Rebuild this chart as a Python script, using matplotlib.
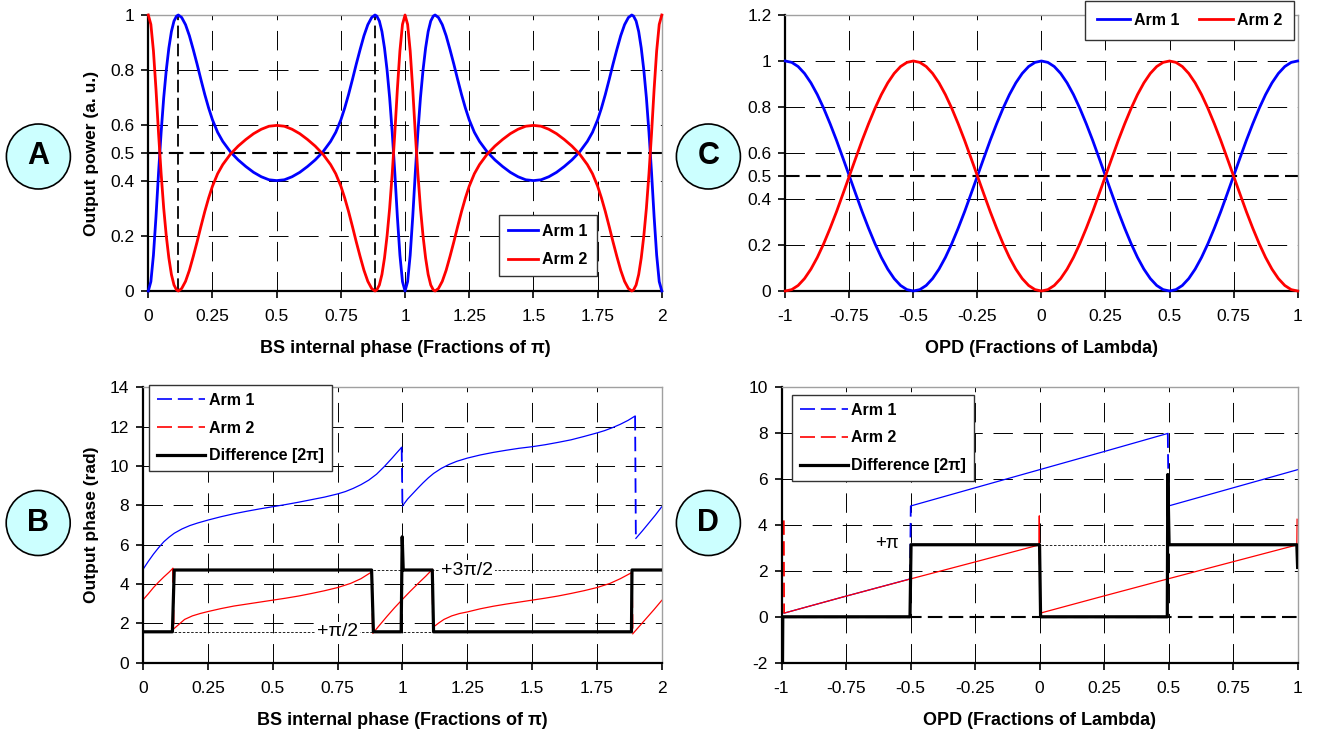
import matplotlib.pyplot as plt
import numpy as np
from matplotlib.patches import Ellipse
from matplotlib.lines import Line2D

plt.rcParams['font.family'] = ['Liberation Sans', 'DejaVu Sans']
plt.rcParams['axes.unicode_minus'] = False

# ---------------- panel A : output power vs BS internal phase ----------------
xA = [0, .01, .02, .03, .04, .05, .06, .07, .08, .09, .10, .11, .117, .13, .145, .16, .175, .19,
      .205, .22, .235, .25, .27, .29, .32, .35, .38, .41, .44, .47, .50,
      .53, .56, .59, .62, .65, .68, .71, .73, .75, .765, .78, .795, .81, .825, .84, .855, .87,
      .883, .89, .90, .91, .92, .93, .94, .95, .96, .97, .98, .99, 1.00,
      1.01, 1.02, 1.03, 1.04, 1.05, 1.06, 1.07, 1.08, 1.09, 1.10, 1.11, 1.117, 1.13, 1.145, 1.16,
      1.175, 1.19, 1.205, 1.22, 1.235, 1.25, 1.27, 1.29, 1.32, 1.35, 1.38, 1.41, 1.44, 1.47, 1.50,
      1.53, 1.56, 1.59, 1.62, 1.65, 1.68, 1.71, 1.73, 1.75, 1.765, 1.78, 1.795, 1.81, 1.825, 1.84,
      1.855, 1.87, 1.883, 1.89, 1.90, 1.91, 1.92, 1.93, 1.94, 1.95, 1.96, 1.97, 1.98, 1.99, 2.00]
arm1_A = [0, .034, .13, .27, .43, .575, .70, .80, .88, .94, .978, .996, 1.0, .991, .965, .925, .875, .822,
          .766, .712, .663, .62, .575, .542, .504, .475, .451, .43, .414, .403, .400,
          .403, .414, .43, .451, .475, .504, .542, .575, .62, .663, .712, .766, .822, .875, .925, .965, .991,
          1.0, .996, .978, .94, .88, .80, .70, .575, .43, .27, .13, .034, 0,
          .034, .13, .27, .43, .575, .70, .80, .88, .94, .978, .996, 1.0, .991, .965, .925,
          .875, .822, .766, .712, .663, .62, .575, .542, .504, .475, .451, .43, .414, .403, .400,
          .403, .414, .43, .451, .475, .504, .542, .575, .62, .663, .712, .766, .822, .875, .925,
          .965, .991, 1.0, .996, .978, .94, .88, .80, .70, .575, .43, .27, .13, .034, 0]
arm2_A = [1, .966, .87, .73, .57, .425, .30, .20, .12, .06, .022, .004, 0, .009, .035, .075, .125, .178,
          .234, .288, .337, .38, .425, .458, .496, .525, .549, .57, .586, .597, .600,
          .597, .586, .57, .549, .525, .496, .458, .425, .38, .337, .288, .234, .178, .125, .075, .035, .009,
          0, .004, .022, .06, .12, .20, .30, .425, .57, .73, .87, .966, 1,
          .966, .87, .73, .57, .425, .30, .20, .12, .06, .022, .004, 0, .009, .035, .075,
          .125, .178, .234, .288, .337, .38, .425, .458, .496, .525, .549, .57, .586, .597, .600,
          .597, .586, .57, .549, .525, .496, .458, .425, .38, .337, .288, .234, .178, .125, .075,
          .035, .009, 0, .004, .022, .06, .12, .20, .30, .425, .57, .73, .87, .966, 1]
peaksA = [0.117, 0.883]

# ---------------- panel C : output power vs OPD ----------------
xC = [-1, -.975, -.95, -.925, -.9, -.875, -.85, -.825, -.8, -.775, -.75, -.725, -.7, -.675, -.65,
      -.625, -.6, -.575, -.55, -.525, -.5, -.475, -.45, -.425, -.4, -.375, -.35, -.325, -.3, -.275,
      -.25, -.225, -.2, -.175, -.15, -.125, -.1, -.075, -.05, -.025, 0, .025, .05, .075, .1, .125,
      .15, .175, .2, .225, .25, .275, .3, .325, .35, .375, .4, .425, .45, .475, .5, .525, .55, .575,
      .6, .625, .65, .675, .7, .725, .75, .775, .8, .825, .85, .875, .9, .925, .95, .975, 1]
arm1_C = [1, .994, .976, .946, .905, .854, .794, .727, .655, .578, .5, .422, .345, .273, .206, .146,
          .095, .054, .024, .006, 0, .006, .024, .054, .095, .146, .206, .273, .345, .422, .5, .578,
          .655, .727, .794, .854, .905, .946, .976, .994, 1, .994, .976, .946, .905, .854, .794, .727,
          .655, .578, .5, .422, .345, .273, .206, .146, .095, .054, .024, .006, 0, .006, .024, .054,
          .095, .146, .206, .273, .345, .422, .5, .578, .655, .727, .794, .854, .905, .946, .976, .994, 1]
arm2_C = [0, .006, .024, .054, .095, .146, .206, .273, .345, .422, .5, .578, .655, .727, .794, .854,
          .905, .946, .976, .994, 1, .994, .976, .946, .905, .854, .794, .727, .655, .578, .5, .422,
          .345, .273, .206, .146, .095, .054, .024, .006, 0, .006, .024, .054, .095, .146, .206, .273,
          .345, .422, .5, .578, .655, .727, .794, .854, .905, .946, .976, .994, 1, .994, .976, .946,
          .905, .854, .794, .727, .655, .578, .5, .422, .345, .273, .206, .146, .095, .054, .024, .006, 0]

# ---------------- panel B : output phase vs BS internal phase ----------------
xB1 = [0, .02, .04, .06, .08, .10, .12, .15, .18, .21, .25, .30, .35, .40, .45, .50, .55, .60, .65,
       .70, .75, .78, .81, .84, .87, .90, .93, .96, .98, .997,
       1.0, 1.02, 1.04, 1.06, 1.08, 1.10, 1.12, 1.15, 1.18, 1.21, 1.25, 1.30, 1.35, 1.40, 1.45, 1.50,
       1.55, 1.60, 1.65, 1.70, 1.75, 1.78, 1.81, 1.84, 1.87, 1.897,
       1.9, 1.925, 1.95, 1.975, 2.0]
yB1 = [4.75, 5.15, 5.52, 5.85, 6.15, 6.38, 6.58, 6.80, 6.97, 7.10, 7.25, 7.42, 7.57, 7.70, 7.82, 7.93,
       8.04, 8.16, 8.29, 8.42, 8.58, 8.70, 8.86, 9.05, 9.28, 9.58, 9.97, 10.40, 10.70, 10.95,
       7.97, 8.32, 8.60, 8.88, 9.15, 9.40, 9.62, 9.88, 10.08, 10.24, 10.40, 10.56, 10.69, 10.80, 10.90,
       10.98, 11.08, 11.20, 11.33, 11.50, 11.68, 11.80, 11.95, 12.12, 12.32, 12.54,
       6.32, 6.70, 7.10, 7.50, 7.93]
xB2 = [0, .02, .04, .06, .08, .10, .115,
       .118, .14, .16, .19, .22, .25, .30, .35, .40, .45, .50, .55, .60, .65, .70, .75, .80, .84, .882,
       .886, .91, .94, .97, 1.0, 1.03, 1.06, 1.09, 1.115,
       1.118, 1.14, 1.16, 1.19, 1.22, 1.25, 1.30, 1.35, 1.40, 1.45, 1.50, 1.55, 1.60, 1.65, 1.70, 1.75,
       1.80, 1.84, 1.884,
       1.888, 1.91, 1.94, 1.97, 2.0]
yB2 = [3.20, 3.50, 3.82, 4.10, 4.36, 4.60, 4.80,
       1.72, 1.97, 2.20, 2.38, 2.50, 2.60, 2.75, 2.88, 2.98, 3.08, 3.18, 3.28, 3.39, 3.52, 3.66, 3.82,
       4.03, 4.27, 4.62,
       1.50, 1.88, 2.35, 2.80, 3.22, 3.63, 4.02, 4.40, 4.74,
       1.80, 2.02, 2.20, 2.38, 2.50, 2.58, 2.74, 2.87, 2.98, 3.08, 3.18, 3.28, 3.39, 3.52, 3.66, 3.82,
       4.03, 4.27, 4.58,
       1.47, 1.80, 2.25, 2.70, 3.17]
xBd = [0, .113, .12, .881, .888, .995, .999, 1.003, 1.115, 1.12, 1.883, 1.885, 2.0]
yBd = [1.571, 1.571, 4.712, 4.712, 1.571, 1.571, 6.4, 4.712, 4.712, 1.571, 1.571, 4.712, 4.712]
refB = [(0.118, 1.118, 1.571, '+π/2', 0.75), (0.886, 1.886, 4.712, '+3π/2', 1.25)]

# ---------------- panel D : output phase vs OPD ----------------
xD1 = [-0.99, -0.75, -0.502, -0.499, -0.25, 0.0, 0.25, 0.497, 0.5, 0.75, 1.0]
yD1 = [0.16, 0.90, 1.65, 4.83, 5.62, 6.41, 7.20, 7.99, 4.83, 5.62, 6.41]
xD2 = [-0.991, -0.99, -0.75, -0.5, -0.25, -0.002, -0.001, 0.0, 0.003, 0.25, 0.5, 0.75, 0.997, 0.998]
yD2 = [4.2, 0.16, 0.90, 1.65, 2.39, 3.13, 4.4, 2.9, 0.16, 0.91, 1.66, 2.40, 3.13, 4.25]
xDd = [-0.996, -0.995, -0.502, -0.498, 0.0, 0.004, 0.495, 0.497, 0.502, 0.997, 1.0]
yDd = [-2.0, 0.0, 0.0, 3.14, 3.14, 0.0, 0.0, 6.2, 3.14, 3.14, 2.15]

# ticks
xtA = [0, .25, .5, .75, 1, 1.25, 1.5, 1.75, 2]
xtlA = ['0', '0.25', '0.5', '0.75', '1', '1.25', '1.5', '1.75', '2']
ytA = [0, .2, .4, .5, .6, .8, 1]
ytlA = ['0', '0.2', '0.4', '0.5', '0.6', '0.8', '1']
xtC = [-1, -.75, -.5, -.25, 0, .25, .5, .75, 1]
xtlC = ['-1', '-0.75', '-0.5', '-0.25', '0', '0.25', '0.5', '0.75', '1']
ytC = [0, .2, .4, .5, .6, .8, 1, 1.2]
ytlC = ['0', '0.2', '0.4', '0.5', '0.6', '0.8', '1', '1.2']
ytB = [0, 2, 4, 6, 8, 10, 12, 14]
ytD = [-2, 0, 2, 4, 6, 8, 10]

W, H = 1319, 736
fig = plt.figure(figsize=(W / 100, H / 100), dpi=100)


def px_axes(l, t, r, b):
    return fig.add_axes([l / W, 1 - b / H, (r - l) / W, (b - t) / H])


axA = px_axes(148.3, 15, 661.8, 291)
axC = px_axes(785.3, 15, 1297.6, 291)
axB = px_axes(143.1, 387.3, 661.8, 662.7)
axD = px_axes(781.5, 387.3, 1297.6, 662.7)

GRID = dict(color='black', lw=0.7, ls=(0, (20, 11)), zorder=0.5)


def style(ax, xlim, ylim, xt, xtl, yt, ytl, ygrid):
    ax.set_xlim(xlim)
    ax.set_ylim(ylim)
    ax.set_xticks(xt)
    ax.set_xticklabels(xtl)
    ax.set_yticks(yt)
    ax.set_yticklabels([str(v) for v in ytl])
    for v in xt[1:]:
        ax.axvline(v, **GRID)
    for v in ygrid:
        ax.axhline(v, **GRID)
    for s in ['top', 'right']:
        ax.spines[s].set_color('#a0a0a0')
        ax.spines[s].set_linewidth(1.0)
    for s in ['left', 'bottom']:
        ax.spines[s].set_color('black')
        ax.spines[s].set_linewidth(1.6)
    ax.tick_params(direction='out', length=5, width=1.2, labelsize=12.5, color='black')
    ax.tick_params(axis='x', pad=8)
    ax.tick_params(axis='y', pad=5)


def phase_line(ax, x, y, color, jump):
    # curve pieces drawn solid, the jumps between branches drawn dashed
    xs, ys = [], []
    for i in range(len(x)):
        xs.append(x[i])
        ys.append(y[i])
        if i < len(x) - 1 and abs(y[i + 1] - y[i]) > jump:
            xs.append(np.nan)
            ys.append(np.nan)
            ax.plot(x[i:i + 2], y[i:i + 2], color=color, lw=1.3, ls=(0, (8, 3.5)), zorder=2)
    ax.plot(xs, ys, color=color, lw=0.9, zorder=2)


# ---- A
style(axA, (0, 2), (0, 1), xtA, xtlA, ytA, ytlA, [.2, .4, .6, .8])
axA.plot(xA, arm1_A, color='#0000ff', lw=2, label='Arm 1', zorder=3, clip_on=False)
axA.plot(xA, arm2_A, color='#ff0000', lw=2, label='Arm 2', zorder=3, clip_on=False)
axA.axhline(0.5, color='black', lw=1.5, ls=(0, (7, 3)), zorder=2)
for p in peaksA:
    axA.plot([p, p], [0, 1], color='black', lw=1.3, ls=(0, (7, 3)), zorder=2)
axA.legend(loc='center', bbox_to_anchor=(0.778, 0.165), prop={'weight': 'bold', 'size': 11.5},
           handlelength=1.9, handletextpad=0.25, labelspacing=0.85, borderpad=0.55,
           fancybox=False, framealpha=1, edgecolor='#333333')
axA.set_ylabel('Output power (a. u.)', fontsize=12.5, fontweight='bold')
axA.yaxis.set_label_coords(-0.0955, 0.5)
axA.set_xlabel('BS internal phase (Fractions of π)', fontsize=13, fontweight='bold', va='top')
axA.xaxis.set_label_coords(0.5, -0.178)

# ---- C
style(axC, (-1, 1), (0, 1.2), xtC, xtlC, ytC, ytlC, [.2, .4, .6, .8, 1.0])
axC.plot(xC, arm1_C, color='#0000ff', lw=2, label='Arm 1', zorder=3, clip_on=False)
axC.plot(xC, arm2_C, color='#ff0000', lw=2, label='Arm 2', zorder=3, clip_on=False)
axC.axhline(0.5, color='black', lw=1.5, ls=(0, (7, 3)), zorder=2)
legC = axC.legend(loc='center', bbox_to_anchor=(0.789, 0.98), ncol=2, prop={'weight': 'bold', 'size': 11.5},
                  handlelength=2.1, handletextpad=0.26, columnspacing=1.2, borderpad=0.75,
                  fancybox=False, framealpha=1, edgecolor='#333333')
legC.set_clip_on(False)
axC.set_xlabel('OPD (Fractions of Lambda)', fontsize=13, fontweight='bold', va='top')
axC.xaxis.set_label_coords(0.5, -0.178)

# ---- B
style(axB, (0, 2), (0, 14), xtA, xtlA, ytB, ytB, ytB[1:])
phase_line(axB, xB1, yB1, '#0000ff', 2.0)
phase_line(axB, xB2, yB2, '#ff0000', 2.0)
axB.plot(xBd, yBd, color='black', lw=2.3, zorder=4)
for x0, x1, yv, txt, xt in refB:
    axB.plot([x0, x1], [yv, yv], color='black', lw=0.6, ls=(0, (3, 2)), zorder=1.5)
    axB.text(xt, yv, txt, ha='center', va='center', fontsize=14, zorder=5,
             bbox=dict(facecolor='white', edgecolor='none', pad=1))
handlesBD = [Line2D([], [], color='#0000ff', lw=1.2, ls=(0, (9, 3.5))),
             Line2D([], [], color='#ff0000', lw=1.2, ls=(0, (9, 3.5))),
             Line2D([], [], color='black', lw=2.3)]
labelsBD = ['Arm 1', 'Arm 2', 'Difference [2π]']
axB.legend(handlesBD, labelsBD, loc='center', bbox_to_anchor=(0.188, 0.852), prop={'weight': 'bold', 'size': 11.5},
           handlelength=3.0, handletextpad=0.22, labelspacing=0.8, borderpad=0.5,
           fancybox=False, framealpha=1, edgecolor='#333333').set_zorder(6)
axB.set_ylabel('Output phase (rad)', fontsize=12.5, fontweight='bold')
axB.yaxis.set_label_coords(-0.085, 0.5)
axB.set_xlabel('BS internal phase (Fractions of π)', fontsize=13, fontweight='bold', va='top')
axB.xaxis.set_label_coords(0.5, -0.178)

# ---- D
style(axD, (-1, 1), (-2, 10), xtC, xtlC, ytD, ytD, [2, 4, 6, 8])
axD.axhline(0, color='black', lw=1.5, ls=(0, (7, 3)), zorder=1.8)
phase_line(axD, xD1, yD1, '#0000ff', 2.0)
phase_line(axD, xD2, yD2, '#ff0000', 2.0)
axD.plot(xDd, yDd, color='black', lw=2.3, zorder=4)
axD.plot([0.004, 0.497], [3.14, 3.14], color='black', lw=0.6, ls=(0, (3, 2)), zorder=1.5)
axD.text(-0.59, 3.2, '+π', ha='center', va='center', fontsize=13.5, zorder=5)
axD.legend(handlesBD, labelsBD, loc='center', bbox_to_anchor=(0.197, 0.816), prop={'weight': 'bold', 'size': 11.5},
           handlelength=3.0, handletextpad=0.22, labelspacing=0.8, borderpad=0.5,
           fancybox=False, framealpha=1, edgecolor='#333333').set_zorder(6)
axD.set_xlabel('OPD (Fractions of Lambda)', fontsize=13, fontweight='bold', va='top')
axD.xaxis.set_label_coords(0.5, -0.178)

# ---- circled panel letters
for cx, cy, s in [(38.4, 156.5, 'A'), (708.4, 156.5, 'C'), (38.2, 523, 'B'), (708.4, 523, 'D')]:
    fig.add_artist(Ellipse((cx / W, 1 - cy / H), 64 / W, 65 / H, transform=fig.transFigure,
                           facecolor='#ccffff', edgecolor='black', lw=1.2))
    fig.text(cx / W, 1 - cy / H, s, ha='center', va='center', fontsize=22, fontweight='bold')

fig.savefig('out.png', dpi=100)
